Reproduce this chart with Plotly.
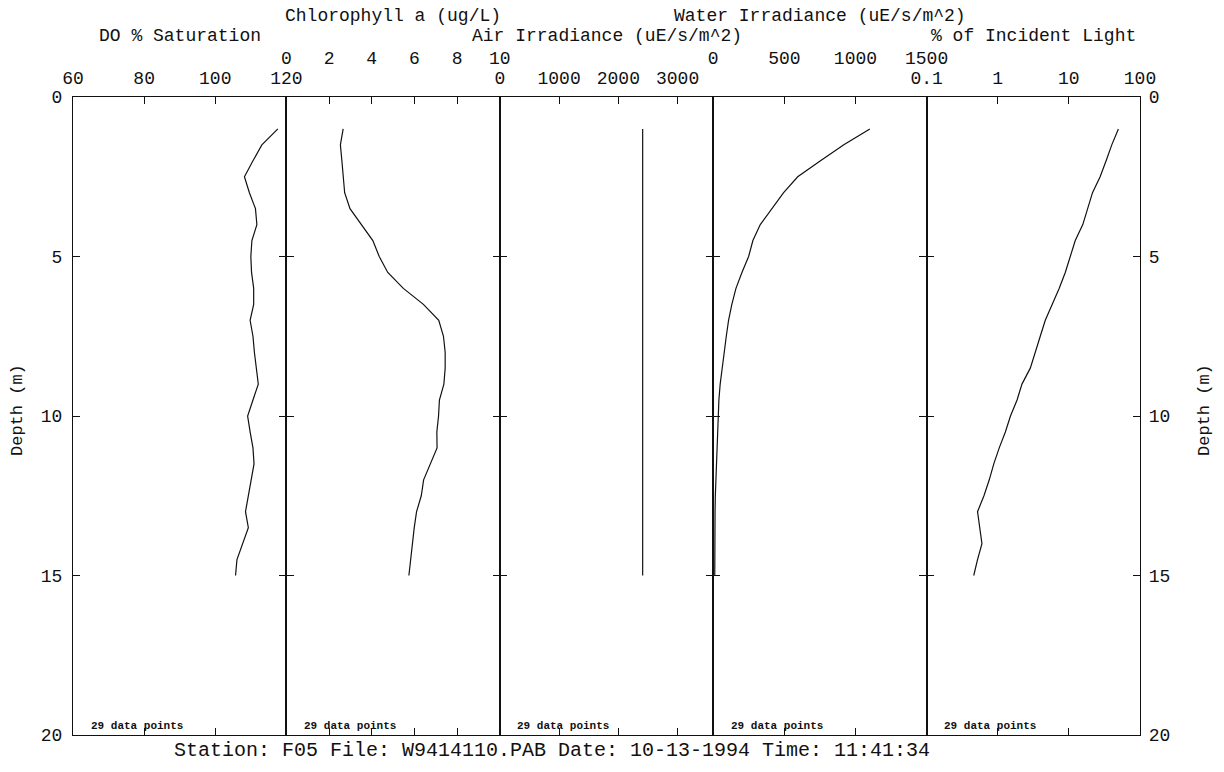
import plotly.graph_objects as go

# ---- data ----
depth = [1.0, 1.5, 2.0, 2.5, 3.0, 3.5, 4.0, 4.5, 5.0, 5.5, 6.0, 6.5, 7.0, 7.5,
         8.0, 8.5, 9.0, 9.5, 10.0, 10.5, 11.0, 11.5, 12.0, 12.5, 13.0, 13.5,
         14.0, 14.5, 15.0]

do_sat = [117.6, 113.1, 110.6, 108.2, 109.6, 111.3, 111.7, 110.3, 110.0, 110.2,
          110.8, 110.8, 109.8, 110.6, 111.0, 111.5, 112.1, 110.6, 109.1, 109.8,
          110.6, 110.9, 110.1, 109.4, 108.5, 109.3, 107.8, 106.1, 105.7]

chl = [2.66, 2.53, 2.60, 2.66, 2.73, 2.98, 3.50, 4.05, 4.35, 4.75, 5.48, 6.42,
       7.14, 7.36, 7.44, 7.44, 7.38, 7.17, 7.13, 7.05, 7.06, 6.76, 6.43, 6.32,
       6.10, 5.99, 5.90, 5.82, 5.74]

air_irr = [2410, 2410, 2410, 2410, 2410, 2410, 2410, 2410, 2410, 2410, 2410,
           2410, 2410, 2410, 2410, 2410, 2410, 2410, 2410, 2410, 2410, 2410,
           2410, 2410, 2410, 2410, 2410, 2410, 2410]

water_irr = [1101, 918, 754, 594, 495, 413, 331, 279, 249, 202, 160, 131, 108,
             92, 77, 61, 49, 40, 35, 30, 25, 21, 18, 15, 13, 13, 14, 12, 11]

pct_light = [49.7, 40.1, 33.4, 27.5, 21.5, 18.5, 15.7, 12.3, 10.4, 8.9, 7.3,
             5.8, 4.66, 3.96, 3.37, 2.87, 2.19, 1.87, 1.51, 1.28, 1.05, 0.88,
             0.76, 0.64, 0.52, 0.56, 0.60, 0.52, 0.46]

do_ticks = [60, 80, 100, 120]
chl_ticks = [0, 2, 4, 6, 8, 10]
air_ticks = [0, 1000, 2000, 3000]
water_ticks = [0, 500, 1000, 1500]
light_ticks = [0.1, 1, 10, 100]
light_tick_text = ["0.1", "1", "10", "100"]
depth_ticks = [0, 5, 10, 15, 20]

titles = ["DO % Saturation", "Chlorophyll a (ug/L)", "Air Irradiance (uE/s/m^2)",
          "Water Irradiance (uE/s/m^2)", "% of Incident Light"]
n_points_label = "29 data points"
footer = "Station: F05 File: W9414110.PAB Date: 10-13-1994 Time: 11:41:34"

# ---- figure ----
FONT = "Liberation Mono"
INK = "#111111"
TITLE_SIZE = 18
TICK_SIZE = 18

fig = go.Figure()
series = [do_sat, chl, air_irr, water_irr, pct_light]
for k, xs in enumerate(series, start=1):
    sfx = "" if k == 1 else str(k)
    fig.add_trace(go.Scatter(x=xs, y=depth, mode="lines",
                             line=dict(color=INK, width=1.2),
                             xaxis="x" + sfx, yaxis="y" + sfx,
                             hoverinfo="skip"))

common_x = dict(side="top", ticks="inside", ticklen=7, tickwidth=1.2,
                tickcolor=INK, mirror="ticks", showline=True, linecolor=INK,
                linewidth=1.3, showgrid=False, zeroline=False,
                tickfont=dict(family=FONT, size=TICK_SIZE, color=INK),
                tickmode="array")
common_y = dict(range=[20, 0], tickmode="array", tickvals=depth_ticks,
                ticks="inside", ticklen=7, tickwidth=1.2, tickcolor=INK,
                mirror="ticks", showline=True, linecolor=INK, linewidth=1.3,
                showgrid=False, zeroline=False,
                tickfont=dict(family=FONT, size=TICK_SIZE, color=INK))

row4 = 5
row3 = 25
layout = dict(
    width=1224, height=772,
    margin=dict(l=73, r=84, t=97, b=37),
    paper_bgcolor="white", plot_bgcolor="white",
    showlegend=False,
    xaxis=dict(common_x, domain=[0.0, 0.2], range=[60, 120], anchor="y",
               tickvals=do_ticks, ticklabelstandoff=row4),
    xaxis2=dict(common_x, domain=[0.2, 0.4], range=[0, 10], anchor="y2",
                tickvals=chl_ticks, ticklabelstandoff=row3),
    xaxis3=dict(common_x, domain=[0.4, 0.6], range=[0, 3600], anchor="y3",
                tickvals=air_ticks, ticklabelstandoff=row4),
    xaxis4=dict(common_x, domain=[0.6, 0.8], range=[0, 1500], anchor="y4",
                tickvals=water_ticks, ticklabelstandoff=row3),
    xaxis5=dict(common_x, domain=[0.8, 1.0], type="log", range=[-1, 2],
                anchor="y5", tickvals=light_ticks, ticktext=light_tick_text,
                ticklabelstandoff=row4),
    yaxis=dict(common_y, anchor="x", ticklabelstandoff=6),
    yaxis2=dict(common_y, anchor="x2", matches="y", showticklabels=False),
    yaxis3=dict(common_y, anchor="x3", matches="y", showticklabels=False),
    yaxis4=dict(common_y, anchor="x4", matches="y", showticklabels=False),
    yaxis5=dict(common_y, anchor="x5", matches="y", side="right",
                ticklabelstandoff=4),
)
fig.update_layout(**layout)

# plot area: y=97 (paper 1) .. y=735 (paper 0)
def py(ypx):
    return (735 - ypx) / 638.0

def px(xpx):
    return (xpx - 73) / 1067.0

title_rows = [36.5, 16, 36.5, 16, 36.5]
anns = []
for k, (t, r) in enumerate(zip(titles, title_rows), start=1):
    xr = "x domain" if k == 1 else f"x{k} domain"
    anns.append(dict(text=t, xref=xr, x=0.5, xanchor="center",
                     yref="paper", y=py(r), yanchor="middle", showarrow=False,
                     borderpad=0,
                     font=dict(family=FONT, size=TITLE_SIZE, color=INK)))
    anns.append(dict(text=n_points_label, xref=xr, x=0.078, xanchor="left",
                     yref="paper", y=py(726), yanchor="middle", showarrow=False,
                     borderpad=0,
                     font=dict(family=FONT, size=11, color=INK, weight="bold")))

anns.append(dict(text=footer, xref="paper", x=px(552), xanchor="center",
                 yref="paper", y=py(751), yanchor="middle", showarrow=False,
                 borderpad=0,
                 font=dict(family=FONT, size=20, color=INK)))
for xx in (18, 1205):
    anns.append(dict(text="Depth (m)", xref="paper", x=px(xx), xanchor="center",
                     yref="paper", y=py(410), yanchor="middle", showarrow=False,
                     borderpad=0, textangle=-90,
                     font=dict(family=FONT, size=17, color=INK)))
fig.update_layout(annotations=anns)

fig.write_html("out.html")
